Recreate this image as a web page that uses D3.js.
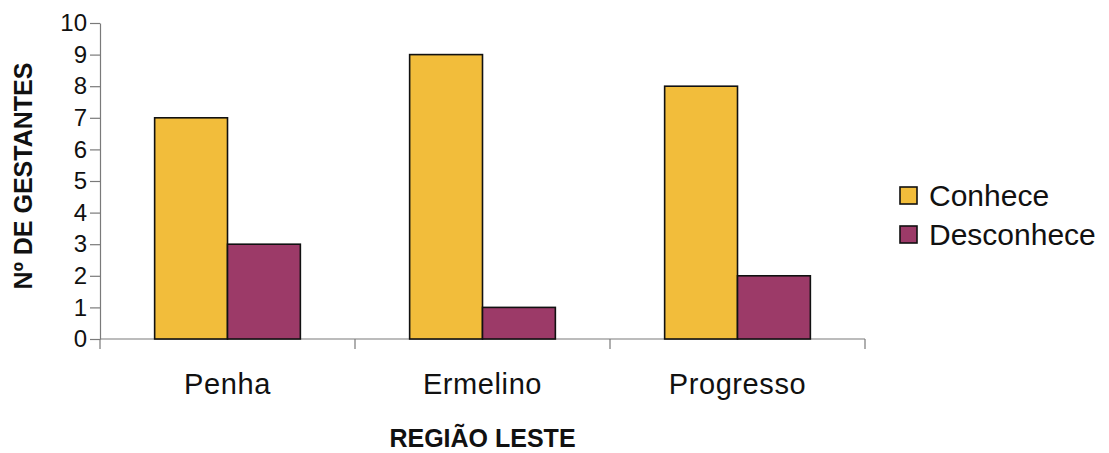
<!DOCTYPE html>
<html>
<head>
<meta charset="utf-8">
<script src="https://cdn.jsdelivr.net/npm/d3@7"></script>
<style>
  html, body { margin: 0; padding: 0; background: #fff; }
  svg { display: block; font-family: "Liberation Sans", Arial, sans-serif; }
</style>
</head>
<body>
<svg id="chart" width="1109" height="453"></svg>
<script>
// Gestantes por região (Zona Leste)
const categories = ["Penha", "Ermelino", "Progresso"];
const seriesNames = ["Conhece", "Desconhece"];
const conhece = [7, 9, 8];
const desconhece = [3, 1, 2];
const yTicks = [0, 1, 2, 3, 4, 5, 6, 7, 8, 9, 10];
const colors = ["#f2bd3b", "#9c3a68"];

const values = [conhece, desconhece];
const rows = categories.map((c, i) => ({
  cat: c,
  vals: seriesNames.map((s, j) => ({ key: s, value: values[j][i], color: colors[j] }))
}));

const svg = d3.select("#chart");
const plot = { left: 100, right: 865, top: 23, bottom: 339 };

const x = d3.scaleBand().domain(categories).range([plot.left, plot.right]).padding(0);
// bar width = band / 3.5, half of the 150% gap on each side
const inner = d3.scaleBand().domain(seriesNames)
  .range([x.bandwidth() * 0.75 / 3.5, x.bandwidth() - x.bandwidth() * 0.75 / 3.5]);
const y = d3.scaleLinear().domain([0, 10]).range([plot.bottom, plot.top]);

// Y axis
const yAxis = svg.append("g")
  .attr("transform", `translate(${plot.left},0)`)
  .call(d3.axisLeft(y).tickValues(yTicks).tickSize(10).tickPadding(3).tickSizeOuter(0));
yAxis.select(".domain").attr("stroke", "#7a7a7a").attr("stroke-width", 1.2);
yAxis.selectAll(".tick line").attr("stroke", "#7a7a7a").attr("stroke-width", 1.2);
yAxis.selectAll(".tick text")
  .attr("font-size", 24).attr("fill", "#111")
  .attr("font-family", "'Liberation Sans', Arial, sans-serif");

// X axis line with ticks at category boundaries
const xAxis = svg.append("g").attr("transform", `translate(0,${plot.bottom})`);
xAxis.append("line")
  .attr("x1", plot.left).attr("x2", plot.right)
  .attr("y1", 0).attr("y2", 0)
  .attr("stroke", "#7a7a7a").attr("stroke-width", 1.2);
const bounds = categories.map(c => x(c)).concat([plot.right]);
xAxis.selectAll("line.bt").data(bounds).join("line")
  .attr("class", "bt")
  .attr("x1", d => d).attr("x2", d => d)
  .attr("y1", 0).attr("y2", 10)
  .attr("stroke", "#7a7a7a").attr("stroke-width", 1.2);
xAxis.selectAll("text.cat").data(categories).join("text")
  .attr("class", "cat")
  .attr("x", d => x(d) + x.bandwidth() / 2)
  .attr("y", 55)
  .attr("text-anchor", "middle")
  .attr("font-size", 29)
  .attr("letter-spacing", 0.6)
  .attr("fill", "#111")
  .text(d => d);

// Bars
const groups = svg.append("g").selectAll("g").data(rows).join("g")
  .attr("transform", d => `translate(${x(d.cat)},0)`);
groups.selectAll("rect").data(d => d.vals).join("rect")
  .attr("x", d => inner(d.key))
  .attr("width", inner.bandwidth())
  .attr("y", d => y(d.value))
  .attr("height", d => y(0) - y(d.value))
  .attr("fill", d => d.color)
  .attr("stroke", "#111")
  .attr("stroke-width", 1.6);

// Axis titles
svg.append("text")
  .attr("transform", `translate(32,${(plot.top + plot.bottom) / 2 - 5}) rotate(-90)`)
  .attr("text-anchor", "middle")
  .attr("font-size", 25)
  .attr("font-weight", "bold")
  .attr("fill", "#111")
  .text("Nº DE GESTANTES");

svg.append("text")
  .attr("x", (plot.left + plot.right) / 2 - 0)
  .attr("y", 447)
  .attr("text-anchor", "middle")
  .attr("font-size", 25)
  .attr("font-weight", "bold")
  .attr("fill", "#111")
  .text("REGIÃO LESTE");

// Legend
const legend = svg.append("g").attr("transform", "translate(900,0)");
const legendRows = seriesNames.map((s, j) => ({ key: s, color: colors[j] }));
const lg = legend.selectAll("g").data(legendRows).join("g")
  .attr("transform", (d, i) => `translate(0,${195 + i * 39})`);
lg.append("rect")
  .attr("x", 0).attr("y", -8)
  .attr("width", 17).attr("height", 17)
  .attr("fill", d => d.color)
  .attr("stroke", "#111").attr("stroke-width", 1.6);
lg.append("text")
  .attr("x", 29).attr("y", 0)
  .attr("dy", "0.36em")
  .attr("font-size", 30)
  .attr("fill", "#111")
  .text(d => d.key);
</script>
</body>
</html>
